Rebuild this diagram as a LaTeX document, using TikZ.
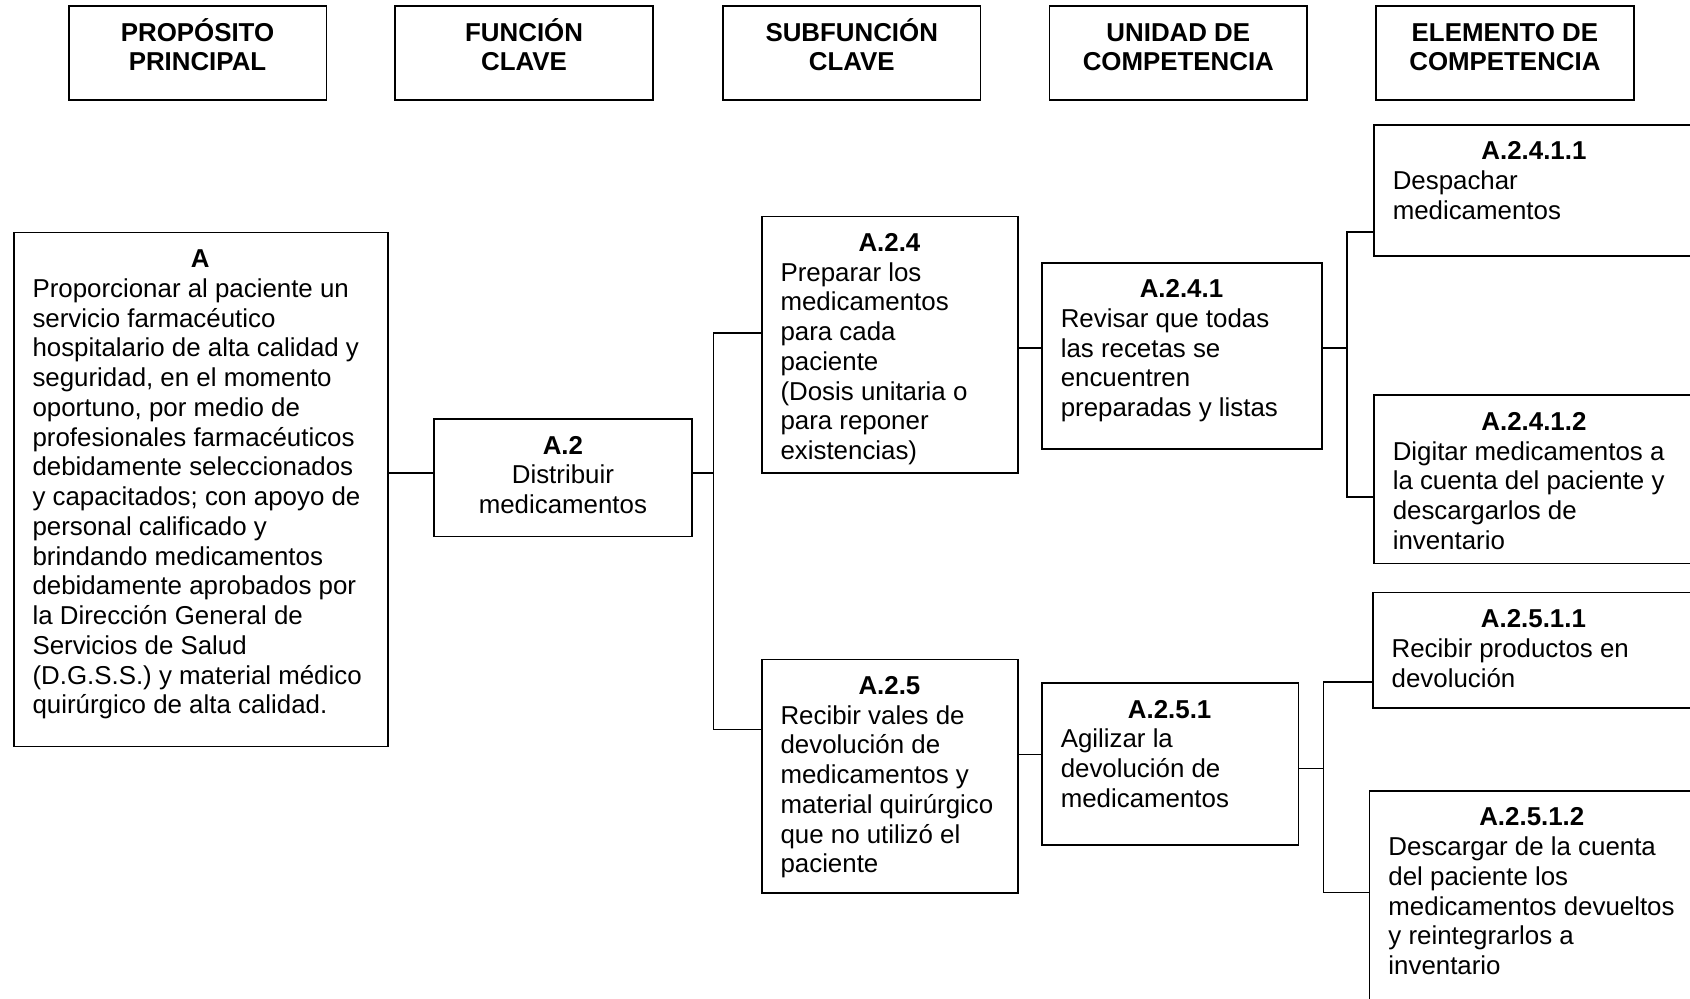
\documentclass[tikz,border=0pt]{standalone}
\usepackage{fontspec}
\setmainfont{Liberation Sans}
\begin{document}
\begin{tikzpicture}[x=1pt,y=-1pt,
  frame/.style={draw, line width=1.5pt, inner sep=0pt, anchor=north west},
  link/.style={line width=1.5pt},
  txtc/.style={anchor=north, inner sep=0pt, align=center, yshift=-13.7pt,
    font=\fontsize{24}{27.6}\selectfont},
  txtb/.style={txtc, font=\fontsize{24}{27.6}\selectfont\bfseries},
  txtl/.style={anchor=north west, inner sep=0pt, align=left, xshift=18pt, yshift=-13.7pt,
    font=\fontsize{24}{27.6}\selectfont}]
\useasboundingbox (0,0) rectangle (1568,926);

% column headings (accented first lines are smashed so all headings share one baseline)
\node[frame, minimum width=239pt, minimum height=87pt] (hp) at (63,5) {};
\node[txtb] (hpt) at (hp.north) {\strut\smash{PROPÓSITO}\\PRINCIPAL};
\node[frame, minimum width=239pt, minimum height=87pt] (hf) at (366,5) {};
\node[txtb] (hft) at (hf.north) {\strut\smash{FUNCIÓN}\\CLAVE};
\node[frame, minimum width=239pt, minimum height=87pt] (hs) at (670,5) {};
\node[txtb] (hst) at (hs.north) {\strut\smash{SUBFUNCIÓN}\\CLAVE};
\node[frame, minimum width=239pt, minimum height=87pt] (hu) at (973,5) {};
\node[txtb] (hut) at (hu.north) {\strut UNIDAD DE\\COMPETENCIA};
\node[frame, minimum width=239pt, minimum height=87pt] (he) at (1276,5) {};
\node[txtb] (het) at (he.north) {\strut ELEMENTO DE\\COMPETENCIA};

% main purpose
\node[frame, minimum width=347pt, minimum height=477pt] (A) at (12,215) {};
\node[txtl] (At) at (A.north west) {\strut\makebox[311pt]{\bfseries A}\\
Proporcionar al paciente un\\
servicio farmacéutico\\
hospitalario de alta calidad y\\
seguridad, en el momento\\
oportuno, por medio de\\
profesionales farmacéuticos\\
debidamente seleccionados\\
y capacitados; con apoyo de\\
personal calificado y\\
brindando medicamentos\\
debidamente aprobados por\\
la Dirección General de\\
Servicios de Salud\\
(D.G.S.S.) y material médico\\
quirúrgico de alta calidad.};

% key function
\node[frame, minimum width=239pt, minimum height=109pt] (a2) at (402,388) {};
\node[txtc] (a2t) at (a2.north) {\strut\textbf{A.2}\\Distribuir\\medicamentos};

% key subfunctions
\node[frame, minimum width=238pt, minimum height=238pt] (a24) at (706,200) {};
\node[txtl] (a24t) at (a24.north west) {\strut\makebox[202pt]{\bfseries A.2.4}\\
Preparar los\\medicamentos\\para cada\\paciente\\(Dosis unitaria o\\para reponer\\existencias)};
\node[frame, minimum width=238pt, minimum height=217pt] (a25) at (706,611) {};
\node[txtl] (a25t) at (a25.north west) {\strut\makebox[202pt]{\bfseries A.2.5}\\
Recibir vales de\\devolución de\\medicamentos y\\material quirúrgico\\que no utilizó el\\paciente};

% competence units
\node[frame, minimum width=260pt, minimum height=173pt] (a241) at (966,243) {};
\node[txtl] (a241t) at (a241.north west) {\strut\makebox[224pt]{\bfseries A.2.4.1}\\
Revisar que todas\\las recetas se\\encuentren\\preparadas y listas};
\node[frame, minimum width=238pt, minimum height=150pt] (a251) at (966,633) {};
\node[txtl] (a251t) at (a251.north west) {\strut\makebox[202pt]{\bfseries A.2.5.1}\\
Agilizar la\\devolución de\\medicamentos};

% competence elements
\node[frame, minimum width=298pt, minimum height=122pt] (a2411) at (1274,115) {};
\node[txtl] (a2411t) at (a2411.north west) {\strut\makebox[262pt]{\bfseries A.2.4.1.1}\\
Despachar\\medicamentos};
\node[frame, minimum width=298pt, minimum height=156pt] (a2412) at (1274,366) {};
\node[txtl] (a2412t) at (a2412.north west) {\strut\makebox[262pt]{\bfseries A.2.4.1.2}\\
Digitar medicamentos a\\la cuenta del paciente y\\descargarlos de\\inventario};
\node[frame, minimum width=299pt, minimum height=107pt] (a2511) at (1273,549) {};
\node[txtl] (a2511t) at (a2511.north west) {\strut\makebox[263pt]{\bfseries A.2.5.1.1}\\
Recibir productos en\\devolución};
\node[frame, minimum width=302pt, minimum height=207pt] (a2512) at (1270,733) {};
\node[txtl] (a2512t) at (a2512.north west) {\strut\makebox[266pt]{\bfseries A.2.5.1.2}\\
Descargar de la cuenta\\del paciente los\\medicamentos devueltos\\y reintegrarlos a\\inventario};

% connectors
\coordinate (jA) at (662,439);
\coordinate (j24) at (662,309);
\coordinate (j25) at (662,677);
\draw[link] (A.east |- jA) -- (a2.west |- jA);
\draw[link] (a2.east |- jA) -- (jA);
\draw[link] (j24 -| a24.west) -- (j24) -- (j25) -- (j25 -| a25.west);

\coordinate (k24) at (955,323);
\draw[link] (a24.east |- k24) -- (a241.west |- k24);
\coordinate (k25) at (955,700);
\draw[link] (a25.east |- k25) -- (a251.west |- k25);

\coordinate (j241) at (1250,323);
\coordinate (j2411) at (1250,215);
\coordinate (j2412) at (1250,461);
\draw[link] (a241.east |- j241) -- (j241);
\draw[link] (j2411 -| a2411.west) -- (j2411) -- (j2412) -- (j2412 -| a2412.west);

\coordinate (j251) at (1228,713);
\coordinate (j2511) at (1228,633);
\coordinate (j2512) at (1228,828);
\draw[link] (a251.east |- j251) -- (j251);
\draw[link] (j2511 -| a2511.west) -- (j2511) -- (j2512) -- (j2512 -| a2512.west);
\end{tikzpicture}
\end{document}
